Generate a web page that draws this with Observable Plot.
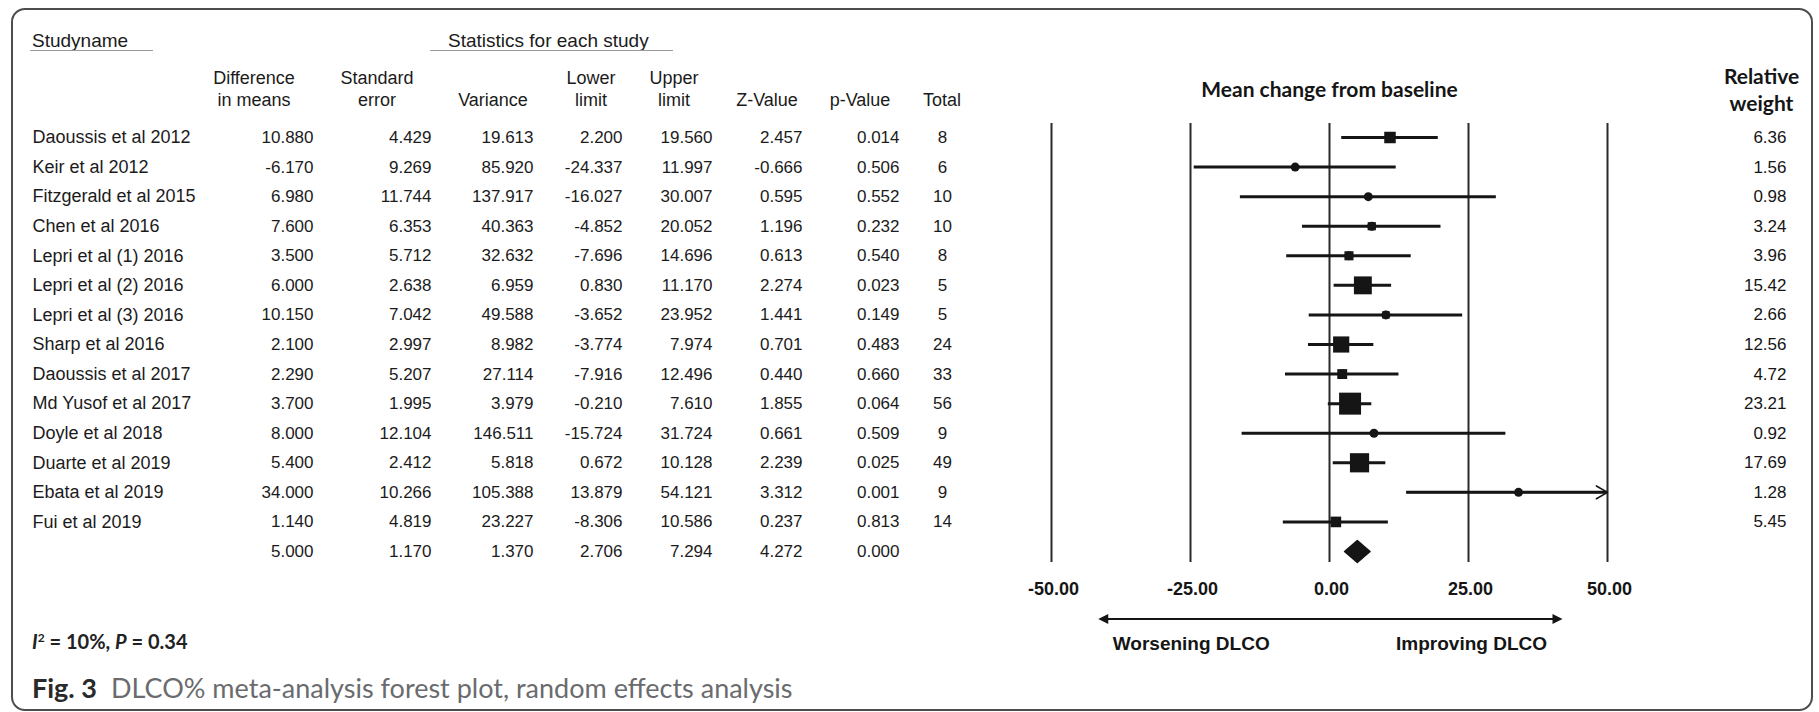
<!DOCTYPE html>
<html>
<head>
<meta charset="utf-8">
<script src="https://cdn.jsdelivr.net/npm/d3@7"></script>
<script src="https://cdn.jsdelivr.net/npm/@observablehq/plot@0.6"></script>
<style>
  html, body { margin: 0; padding: 0; background: #fff; }
  body { width: 1819px; height: 712px; position: relative; overflow: hidden;
         font-family: "Liberation Sans", Arial, sans-serif; color: #1b1b1b; }
  #frame { position: absolute; left: 11px; top: 8px; width: 1802px; height: 703px;
           box-sizing: border-box; border: 2px solid #4d4d4d; border-radius: 14px; }
  .abs { position: absolute; white-space: nowrap; line-height: 1; }
  .hd { font-size: 18px; transform: translate(-50%, -50%); }
  .group { font-size: 19px; transform: translateY(-50%); }
  .rule { position: absolute; height: 0; border-top: 1.5px solid #9a9a9a; }
  #table, #forest { position: absolute; top: 0; }
  #table { left: 0; }
  #forest { left: 1000px; }
  #het { left: 32px; top: 641px; transform: translateY(-50%); font-family: Lato, "Open Sans", sans-serif;
         font-weight: 700; font-size: 20px; color: #222; }
  #het sup { font-size: 12px; vertical-align: 7px; }
  #caption { left: 32px; top: 687px; transform: translateY(-50%); font-family: Lato, "Open Sans", sans-serif;
             font-size: 27px; color: #6a6b6e; }
  #caption b { color: #2a2a2a; font-weight: 700; margin-right: 14px; }
</style>
</head>
<body>
<div id="frame"></div>
<div id="table"></div>
<div id="forest"></div>
<div id="headers"></div>
<div id="het" class="abs"></div>
<div id="caption" class="abs"></div>
<script>
// ---- Study-level statistics (mean change in DLCO% from baseline) ----
const studies = [
  "Daoussis et al 2012", "Keir et al 2012", "Fitzgerald et al 2015", "Chen et al 2016",
  "Lepri et al (1) 2016", "Lepri et al (2) 2016", "Lepri et al (3) 2016", "Sharp et al 2016",
  "Daoussis et al 2017", "Md Yusof et al 2017", "Doyle et al 2018", "Duarte et al 2019",
  "Ebata et al 2019", "Fui et al 2019"
];
const diffMeans  = [10.880, -6.170, 6.980, 7.600, 3.500, 6.000, 10.150, 2.100, 2.290, 3.700, 8.000, 5.400, 34.000, 1.140];
const stdErrors  = [4.429, 9.269, 11.744, 6.353, 5.712, 2.638, 7.042, 2.997, 5.207, 1.995, 12.104, 2.412, 10.266, 4.819];
const variances  = [19.613, 85.920, 137.917, 40.363, 32.632, 6.959, 49.588, 8.982, 27.114, 3.979, 146.511, 5.818, 105.388, 23.227];
const lowerLimit = [2.200, -24.337, -16.027, -4.852, -7.696, 0.830, -3.652, -3.774, -7.916, -0.210, -15.724, 0.672, 13.879, -8.306];
const upperLimit = [19.560, 11.997, 30.007, 20.052, 14.696, 11.170, 23.952, 7.974, 12.496, 7.610, 31.724, 10.128, 54.121, 10.586];
const zValues    = [2.457, -0.666, 0.595, 1.196, 0.613, 2.274, 1.441, 0.701, 0.440, 1.855, 0.661, 2.239, 3.312, 0.237];
const pValues    = [0.014, 0.506, 0.552, 0.232, 0.540, 0.023, 0.149, 0.483, 0.660, 0.064, 0.509, 0.025, 0.001, 0.813];
const totals     = [8, 6, 10, 10, 8, 5, 5, 24, 33, 56, 9, 49, 9, 14];
const relWeights = [6.36, 1.56, 0.98, 3.24, 3.96, 15.42, 2.66, 12.56, 4.72, 23.21, 0.92, 17.69, 1.28, 5.45];

// Pooled random-effects estimate
const pooledDiff = 5.000, pooledSE = 1.170, pooledVar = 1.370;
const pooledLower = 2.706, pooledUpper = 7.294, pooledZ = 4.272, pooledP = 0.000;

// Heterogeneity
const iSquared = 10, pHeterogeneity = 0.34;

// Axis ticks and labels
const xTicks = [-50, -25, 0, 25, 50];
const plotTitle = "Mean change from baseline";
const weightTitle = "Relative\nweight";
const directionLabels = ["Worsening DLCO", "Improving DLCO"];
const captionLabel = "Fig. 3";
const captionText = "DLCO% meta-analysis forest plot, random effects analysis";

// ---- Tables built from the arrays ----
const rows = studies.map((name, i) => ({
  i, name, diff: diffMeans[i], se: stdErrors[i], variance: variances[i],
  lower: lowerLimit[i], upper: upperLimit[i], z: zValues[i], p: pValues[i],
  total: totals[i], weight: relWeights[i]
}));
const pooled = {
  i: studies.length, name: "", diff: pooledDiff, se: pooledSE, variance: pooledVar,
  lower: pooledLower, upper: pooledUpper, z: pooledZ, p: pooledP, total: null
};
const tableRows = [...rows, pooled];

// ---- Layout ----
const rowRange = [137, 551];                 // vertical position of first and last row
const yScale = {domain: [0, studies.length], range: rowRange, axis: null};
const fixed3 = v => v.toFixed(3);
const columns = [
  {key: "diff",     head: ["Difference", "in means"], right: 313, center: 254},
  {key: "se",       head: ["Standard", "error"],      right: 431, center: 377},
  {key: "variance", head: ["", "Variance"],           right: 533, center: 493},
  {key: "lower",    head: ["Lower", "limit"],         right: 622, center: 591},
  {key: "upper",    head: ["Upper", "limit"],         right: 712, center: 674},
  {key: "z",        head: ["", "Z-Value"],            right: 802, center: 767},
  {key: "p",        head: ["", "p-Value"],            right: 899, center: 860}
];
const totalColumn = {key: "total", head: "Total", center: 942};
const fontTable = "Liberation Sans, Arial, sans-serif";
const fontTitle = "Lato, 'Open Sans', sans-serif";

// ---- Left-hand statistics table ----
const tableMarks = [
  Plot.text(rows, {y: "i", text: "name", frameAnchor: "left", dx: 32, textAnchor: "start", fontSize: 18}),
  ...columns.map(c => Plot.text(tableRows, {
    y: "i", text: d => fixed3(d[c.key]), frameAnchor: "left", dx: c.right, textAnchor: "end", fontSize: 17
  })),
  Plot.text(rows, {y: "i", text: d => String(d.total), frameAnchor: "left", dx: totalColumn.center, textAnchor: "middle", fontSize: 17})
];
const table = Plot.plot({
  width: 1000, height: 600, margin: 0,
  y: yScale,
  style: {fontFamily: fontTable, color: "#1b1b1b", background: "transparent", overflow: "visible"},
  marks: tableMarks
});
document.getElementById("table").append(table);

// ---- Column headers ----
const headers = document.getElementById("headers");
function addText(cls, text, left, top) {
  const el = document.createElement("div");
  el.className = "abs " + cls;
  el.textContent = text;
  el.style.left = left + "px";
  el.style.top = top + "px";
  headers.append(el);
  return el;
}
function addRule(left, top, width) {
  const el = document.createElement("div");
  el.className = "rule";
  el.style.left = left + "px";
  el.style.top = top + "px";
  el.style.width = width + "px";
  headers.append(el);
}
addText("group", "Studyname", 32, 40);
addText("group", "Statistics for each study", 448, 40);
addRule(30, 50, 123);
addRule(430, 50, 243);
for (const c of columns) {
  if (c.head[0]) addText("hd", c.head[0], c.center, 78);
  addText("hd", c.head[1], c.center, 100);
}
addText("hd", totalColumn.head, totalColumn.center, 100);

// ---- Forest plot ----
const xMin = d3.min(xTicks), xMax = d3.max(xTicks);
const diamondHalf = 0.37;   // half height of the pooled diamond, in row units
const diamond = [
  {x: pooled.lower, y: pooled.i},
  {x: pooled.diff,  y: pooled.i - diamondHalf},
  {x: pooled.upper, y: pooled.i},
  {x: pooled.diff,  y: pooled.i + diamondHalf}
];
const directionSpan = [-41.5, 42];          // extent of the worsening/improving indicator
const directionOffset = 57;                 // pixels below the plot frame

function directionArrow(index, scales, values, dims) {
  const x = scales.x;
  const y = dims.height - dims.marginBottom + directionOffset;
  const a = x(directionSpan[0]), b = x(directionSpan[1]);
  const g = d3.create("svg:g").attr("fill", "#151515").attr("stroke", "none");
  g.append("line").attr("x1", a + 6).attr("x2", b - 6).attr("y1", y).attr("y2", y)
    .attr("stroke", "#151515").attr("stroke-width", 2);
  g.append("path").attr("d", `M${a},${y}l10,-5v10z`);
  g.append("path").attr("d", `M${b},${y}l-10,-5v10z`);
  return g.node();
}

const labelStyle = {frameAnchor: "bottom", lineAnchor: "middle", dy: 81, fontSize: 19, fontWeight: "bold"};

const forest = Plot.plot({
  width: 819, height: 680,
  marginLeft: 51, marginRight: 212, marginTop: 123, marginBottom: 118,
  x: {domain: [xMin, xMax], axis: null},
  y: yScale,
  r: {type: "sqrt", domain: [0, d3.max(relWeights)], range: [0, 12.4]},
  style: {fontFamily: fontTable, color: "#151515", background: "transparent", overflow: "visible"},
  marks: [
    Plot.ruleX(xTicks, {stroke: "#2a2a2a", strokeWidth: 2}),
    Plot.ruleY(rows, {y: "i", x1: "lower", x2: d => Math.min(d.upper, xMax), stroke: "#151515", strokeWidth: 3}),
    Plot.arrow(rows.filter(d => d.upper > xMax), {
      x1: "lower", x2: () => xMax, y1: "i", y2: "i", stroke: "#151515", strokeWidth: 1.6, headLength: 12
    }),
    Plot.dot(rows, {x: "diff", y: "i", r: 4.5, fill: "#151515"}),
    Plot.dot(rows, {x: "diff", y: "i", r: "weight", symbol: "square", fill: "#151515"}),
    Plot.line(diamond, {x: "x", y: "y", curve: "linear-closed", fill: "#151515", stroke: "#151515"}),
    Plot.text(xTicks, {x: d => d, text: d => d.toFixed(2), frameAnchor: "bottom", lineAnchor: "middle",
      dx: 2, dy: 27, fontSize: 18, fontWeight: "bold"}),
    Plot.text([plotTitle], {frameAnchor: "top", lineAnchor: "middle", dy: -33,
      fontFamily: fontTitle, fontWeight: "bold", fontSize: 21}),
    Plot.text([weightTitle], {frameAnchor: "top-right", textAnchor: "middle", lineAnchor: "middle",
      dx: 154, dy: -34.5, lineHeight: 1.3, fontFamily: fontTitle, fontWeight: "bold", fontSize: 21}),
    Plot.text(rows, {y: "i", text: d => d.weight.toFixed(2), frameAnchor: "right", dx: 179,
      textAnchor: "end", fontSize: 17}),
    directionArrow,
    Plot.text([directionLabels[0]], {x: () => directionSpan[0], textAnchor: "start", dx: 14, ...labelStyle}),
    Plot.text([directionLabels[1]], {x: () => directionSpan[1], textAnchor: "end", dx: -16, ...labelStyle})
  ]
});
document.getElementById("forest").append(forest);

// ---- Heterogeneity and caption ----
document.getElementById("het").innerHTML =
  `<i>I</i><sup>2</sup> = ${iSquared}%, <i>P</i> = ${pHeterogeneity}`;
document.getElementById("caption").innerHTML = `<b>${captionLabel}</b>${captionText}`;
</script>
</body>
</html>
